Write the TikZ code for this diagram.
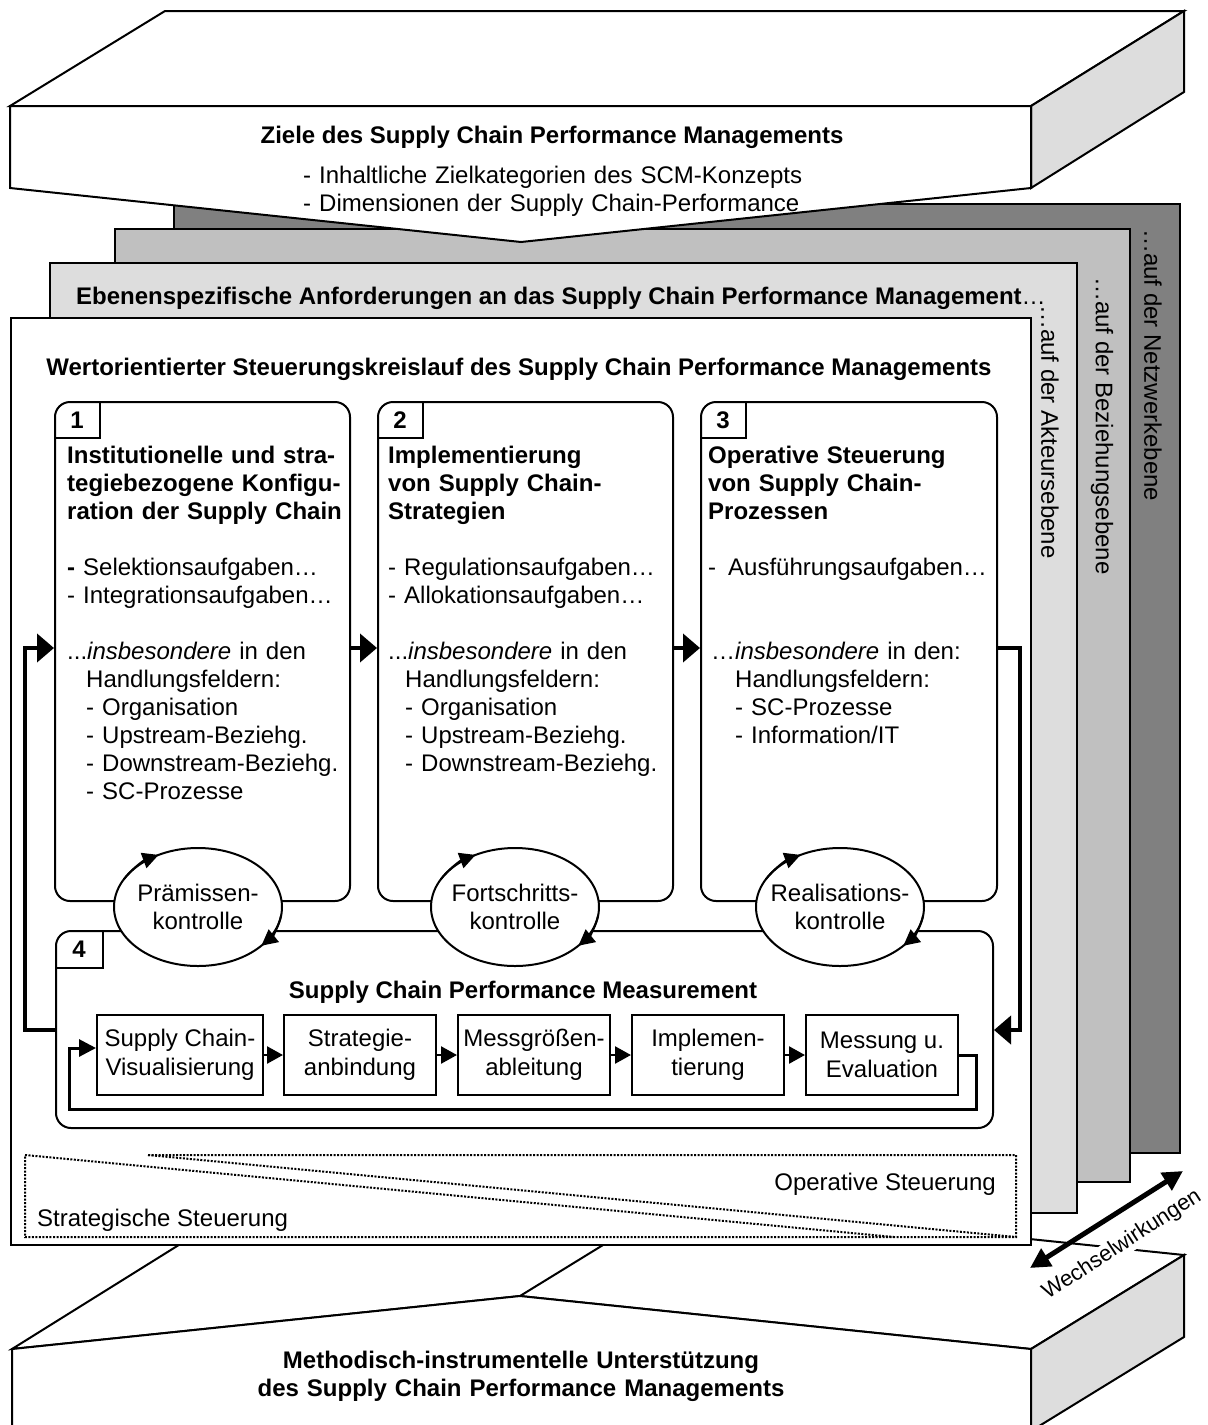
\documentclass[tikz,border=0pt]{standalone}
\usepackage{fontspec}
\setmainfont{Liberation Sans}
\usetikzlibrary{positioning,calc,arrows.meta,shapes.geometric}

\definecolor{darkgrey}{HTML}{808080}
\definecolor{midgrey}{HTML}{C0C0C0}
\definecolor{lightgrey}{HTML}{DDDDDD}

\tikzset{
  txt/.style={inner sep=0pt, font=\fontsize{24}{28}\selectfont},
  txtbf/.style={inner sep=0pt, font=\fontsize{24}{28}\selectfont\bfseries},
  edge3d/.style={draw, line width=2pt},
  layer/.style={draw, line width=2pt},
  phasebox/.style={draw, line width=2pt, rounded corners=15pt, fill=white, anchor=north west},
  tabline/.style={line width=2pt},
  phasetext/.style={txt, text width=282pt, align=left, anchor=base west},
  ctrl/.style={draw, ellipse, line width=2pt, fill=white, minimum width=168pt, minimum height=118pt,
    inner xsep=-14pt, inner ysep=0pt, align=center, font=\fontsize{24}{28}\selectfont},
  ctrlarrow/.style={line width=2pt, -{Triangle[length=16pt,width=16pt]}},
  mbox/.style={draw, line width=2pt, minimum width=152pt, minimum height=80pt, inner sep=1pt,
    align=center, font=\fontsize{24}{29}\selectfont},
  marrow/.style={line width=2.5pt, -{Triangle[length=16pt,width=17pt]}},
  mloop/.style={line width=3pt, -{Triangle[length=17pt,width=17pt]}},
  bigarrow/.style={line width=4pt, -{Triangle[length=17pt,width=28pt]}},
  steuer/.style={line width=2pt, dash pattern=on 2pt off 1.5pt},
  wwarrow/.style={line width=5pt, {Triangle[length=20pt,width=20pt]}-{Triangle[length=20pt,width=20pt]}},
}

\begin{document}
\begin{tikzpicture}[x=1pt, y=-1pt]
  \useasboundingbox (0,0) rectangle (1208,1425);
  \clip (0,0) rectangle (1208,1425);
  \fill[white] (0,0) rectangle (1208,1425);

  \draw[edge3d, fill=white] (12,1349) -- (190,1238) -- (673,1202) -- (1184,1255) -- (1031,1349) -- (520,1296) -- cycle;
  \draw[edge3d] (520,1296) -- (673,1202);
  \draw[edge3d, fill=white] (12,1440) -- (12,1349) -- (520,1296) -- (1031,1349) -- (1031,1440);
  \draw[edge3d, fill=lightgrey] (1031,1349) -- (1184,1255) -- (1184,1337) -- (1031,1431) -- cycle;
  \node[txtbf, text width=700pt, align=center, anchor=base] (methode) at (521,1368.5)
    {Methodisch-instrumentelle Unterstützung\\des Supply Chain Performance Managements};

  \draw[layer, fill=darkgrey] (174,204) rectangle (1180,1153);
  \draw[layer, fill=midgrey] (115,229) rectangle (1130,1182);
  \draw[layer, fill=lightgrey] (50,263) rectangle (1077,1213);
  \draw[layer, fill=white] (11,318) rectangle (1031,1245);
  \node[txt, rotate=-90, anchor=west] (netz) at (1153,229) {…auf der Netzwerkebene};
  \node[txt, rotate=-90, anchor=west] (bez) at (1102,277) {…auf der Beziehungsebene};
  \node[txt, rotate=-90, anchor=west] (akt) at (1050,305) {…auf der Akteursebene};
  \node[txtbf, anchor=base west] (ebenen) at (76,304.5) {Ebenenspezifische Anforderungen an das Supply Chain Performance Management\textmd{…}};
  \node[txtbf, anchor=base] (kreis) at (519,375.5) {Wertorientierter Steuerungskreislauf des Supply Chain Performance Managements};

  \node[phasebox, minimum width=295pt, minimum height=499pt] (b1) at (54,401) {};
  \node[phasebox, minimum width=295pt, minimum height=499pt, right=26pt of b1] (b2) {};
  \node[phasebox, minimum width=296pt, minimum height=499pt, right=26pt of b2] (b3) {};
  \node[phasebox, minimum width=937pt, minimum height=197pt] (b4) at (55,930) {};

  \draw[tabline] (b1.north west) ++(46,0) -- ++(0,37) -- ++(-46,0);
  \draw[tabline] (b2.north west) ++(46,0) -- ++(0,37) -- ++(-46,0);
  \draw[tabline] (b3.north west) ++(46,0) -- ++(0,37) -- ++(-46,0);
  \draw[tabline] (b4.north west) ++(48,0) -- ++(0,38) -- ++(-48,0);
  \node[txtbf] (tab1) at ($(b1.north west)+(23,19)$) {1};
  \node[txtbf] (tab2) at ($(b2.north west)+(23,19)$) {2};
  \node[txtbf] (tab3) at ($(b3.north west)+(23,19)$) {3};
  \node[txtbf] (tab4) at ($(b4.north west)+(24,19)$) {4};

  \node[phasetext] (t1) at (67,463.5) {%
    \textbf{Institutionelle und stra-}\\
    \textbf{tegiebezogene Konfigu-}\\
    \textbf{ration der Supply Chain}\\[28pt]
    \textbf{-} Selektionsaufgaben…\\
    - Integrationsaufgaben…\\[28pt]
    ...\textit{insbesondere} in den\\
    \hspace*{19pt}Handlungsfeldern:\\
    \hspace*{19pt}- Organisation\\
    \hspace*{19pt}- Upstream-Beziehg.\\
    \hspace*{19pt}- Downstream-Beziehg.\\
    \hspace*{19pt}- SC-Prozesse};
  \node[phasetext] (t2) at (388,463.5) {%
    \textbf{Implementierung}\\
    \textbf{von Supply Chain-}\\
    \textbf{Strategien}\\[28pt]
    - Regulationsaufgaben…\\
    - Allokationsaufgaben…\\[28pt]
    ...\textit{insbesondere} in den\\
    \hspace*{17pt}Handlungsfeldern:\\
    \hspace*{17pt}- Organisation\\
    \hspace*{17pt}- Upstream-Beziehg.\\
    \hspace*{17pt}- Downstream-Beziehg.};
  \node[phasetext] (t3) at (708,463.5) {%
    \textbf{Operative Steuerung}\\
    \textbf{von Supply Chain-}\\
    \textbf{Prozessen}\\[28pt]
    - \hspace{4pt}Ausführungsaufgaben…\\[56pt]
    \hspace*{3pt}…\textit{insbesondere} in den:\\
    \hspace*{27pt}Handlungsfeldern:\\
    \hspace*{27pt}- SC-Prozesse\\
    \hspace*{27pt}- Information/IT};

  \node[ctrl] (k1) at (198,907) {Prämissen-\\kontrolle};
  \node[ctrl] (k2) at (515,907) {Fortschritts-\\kontrolle};
  \node[ctrl] (k3) at (840,907) {Realisations-\\kontrolle};
  \draw[ctrlarrow] (k1.center) ++(-152:84 and 59) arc[start angle=-152, end angle=-118, x radius=84, y radius=59];
  \draw[ctrlarrow] (k1.center) ++(8:84 and 59) arc[start angle=8, end angle=41, x radius=84, y radius=59];
  \draw[ctrlarrow] (k2.center) ++(-152:84 and 59) arc[start angle=-152, end angle=-118, x radius=84, y radius=59];
  \draw[ctrlarrow] (k2.center) ++(8:84 and 59) arc[start angle=8, end angle=41, x radius=84, y radius=59];
  \draw[ctrlarrow] (k3.center) ++(-152:84 and 59) arc[start angle=-152, end angle=-118, x radius=84, y radius=59];
  \draw[ctrlarrow] (k3.center) ++(8:84 and 59) arc[start angle=8, end angle=41, x radius=84, y radius=59];

  \coordinate (lvl) at (0,648);
  \coordinate (lvl4) at (0,1030);
  \coordinate (lleft) at (25,648);
  \draw[bigarrow] (b1.east |- lvl) -- (b2.west |- lvl);
  \draw[bigarrow] (b2.east |- lvl) -- (b3.west |- lvl);
  \draw[bigarrow] (b3.east |- lvl) -- ++(22,0) |- (b4.east |- lvl4);
  \draw[bigarrow] (b4.west |- lvl4) -| (lleft) -- (b1.west |- lvl);

  \node[txtbf, anchor=base] (mtitle) at (523,998.5) {Supply Chain Performance Measurement};
  \node[mbox, minimum width=166pt] (m1) at (180,1055) {Supply Chain-\\Visualisierung};
  \node[mbox, right=19pt of m1] (m2) {Strategie-\\anbindung};
  \node[mbox, right=20pt of m2] (m3) {Messgrößen-\\ableitung};
  \node[mbox, right=20pt of m3] (m4) {Implemen-\\tierung};
  \node[mbox, right=20pt of m4] (m5) {Messung u.\\Evaluation};
  \draw[marrow] (m1) -- (m2);
  \draw[marrow] (m2) -- (m3);
  \draw[marrow] (m3) -- (m4);
  \draw[marrow] (m4) -- (m5);
  \coordinate (mlr) at (976,1109);
  \coordinate (mll) at (69,1109);
  \draw[mloop] (m5.east) -| (mlr) -- (mll) |- ([yshift=7pt]m1.west);

  \draw[steuer] (148,1155) -- (1016,1155) -- (1016,1237) -- (25,1237) -- (25,1155) -- (894,1237);
  \draw[steuer] (148,1155) -- (1016,1237);
  \node[txt, anchor=base east] (opst) at (996,1190.5) {Operative Steuerung};
  \node[txt, anchor=base west] (strst) at (37,1226.5) {Strategische Steuerung};

  \draw[edge3d, fill=white] (10,106) -- (165,11) -- (1184,11) -- (1031,106) -- cycle;
  \draw[edge3d, fill=lightgrey] (1031,106) -- (1184,11) -- (1184,92) -- (1031,188) -- cycle;
  \draw[edge3d, fill=white] (10,106) -- (1031,106) -- (1031,188) -- (521,242) -- (10,188) -- cycle;
  \node[txtbf, anchor=base] (ziele) at (552,143.5) {Ziele des Supply Chain Performance Managements};
  \node[txt, text width=520pt, align=left, anchor=base west] (zliste) at (303,183.5)
    {- Inhaltliche Zielkategorien des SCM-Konzepts\\- Dimensionen der Supply Chain-Performance};

  \node[txt, font=\fontsize{22}{26}\selectfont, rotate=33, fill=white, inner sep=1pt] (wechsel) at (1122,1245) {Wechselwirkungen};
  \coordinate (wA) at (1030,1268);
  \coordinate (wB) at (1183,1171);
  \draw[wwarrow] (wA) -- (wB);
\end{tikzpicture}
\end{document}
